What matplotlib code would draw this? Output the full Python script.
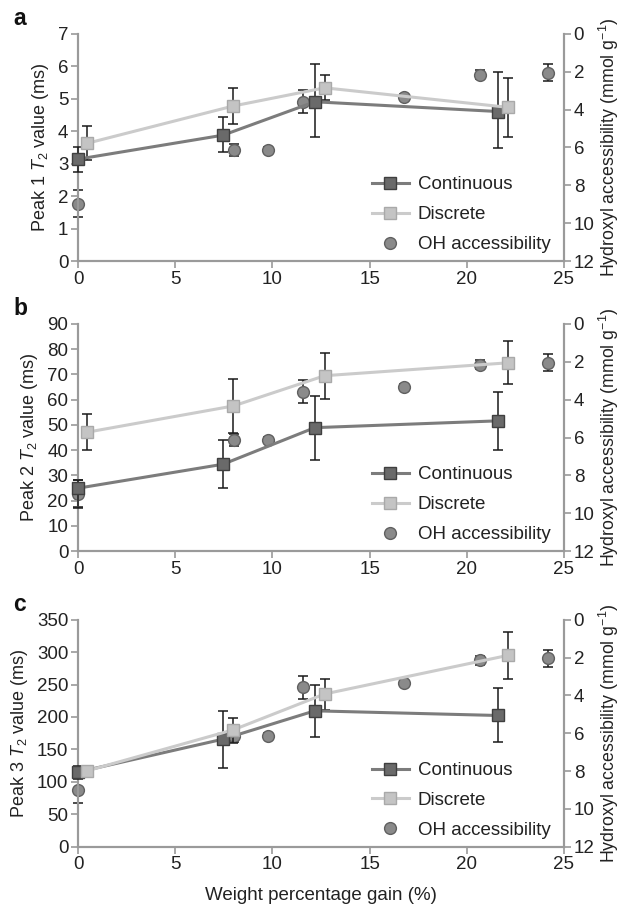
import matplotlib
matplotlib.use("Agg")
import matplotlib.pyplot as plt
import numpy as np

plt.rcParams['font.family'] = ['Liberation Sans', 'DejaVu Sans']
plt.rcParams['mathtext.fontset'] = 'custom'
plt.rcParams['mathtext.it'] = 'Liberation Sans:italic'
plt.rcParams['mathtext.rm'] = 'Liberation Sans'

# ---------------- data ----------------
cont_x = [0, 7.46, 12.18, 21.59]
disc_x = [0.47, 7.99, 12.69, 22.1]
oh_x = [0, 8.0, 9.79, 11.57, 16.78, 20.69, 24.18]
oh_y = [8.98, 6.13, 6.13, 3.58, 3.34, 2.15, 2.05]
oh_err = [0.72, 0.34, 0.15, 0.6, 0.15, 0.25, 0.45]

# Peak 1
a_cont = [3.14, 3.88, 4.91, 4.61]
a_cont_up = [0.39, 0.55, 1.16, 1.22]
a_cont_dn = [0.40, 0.53, 1.08, 1.14]
a_disc = [3.63, 4.78, 5.34, 4.74]
a_disc_up = [0.52, 0.55, 0.41, 0.90]
a_disc_dn = [0.52, 0.55, 0.37, 0.91]

# Peak 2
b_cont = [24.9, 34.4, 48.9, 51.6]
b_cont_up = [3.2, 9.6, 12.7, 11.3]
b_cont_dn = [7.7, 9.4, 12.9, 11.4]
b_disc = [47.1, 57.5, 69.5, 74.6]
b_disc_up = [7.2, 10.6, 9.0, 8.6]
b_disc_dn = [7.1, 10.6, 9.1, 8.3]

# Peak 3
c_cont = [115, 165.8, 209.5, 202.3]
c_cont_up = [10, 44, 40, 42]
c_cont_dn = [10, 44, 40, 41]
c_disc = [117, 180.2, 235.5, 294.9]
c_disc_up = [7, 19, 23, 35.5]
c_disc_dn = [7, 21, 24, 36]

panels = [
    ("a", "Peak 1", a_cont, a_cont_up, a_cont_dn, a_disc, a_disc_up, a_disc_dn, 7, 1),
    ("b", "Peak 2", b_cont, b_cont_up, b_cont_dn, b_disc, b_disc_up, b_disc_dn, 90, 10),
    ("c", "Peak 3", c_cont, c_cont_up, c_cont_dn, c_disc, c_disc_up, c_disc_dn, 350, 50),
]

W, H = 622, 907
fig = plt.figure(figsize=(W / 100, H / 100), dpi=100)

left = 78 / W
width = (564 - 78) / W
bottoms_px = [261, 551, 846.7]
height = 227 / H

spine_col = '#9a9a9a'
text_col = '#222222'
cont_line = '#7c7c7c'
cont_face = '#6a6a6a'
cont_edge = '#3f3f3f'
disc_line = '#cbcbcb'
disc_face = '#c4c4c4'
disc_edge = '#a9a9a9'
oh_face = '#8a8a8a'
oh_edge = '#606060'

FS = 13.5

for i, (lab, peak, cy, cu, cd, dy, du, dd, ymax, ystep) in enumerate(panels):
    b = 1 - bottoms_px[i] / H
    ax = fig.add_axes([left, b, width, height])
    ax2 = ax.twinx()
    ax.set_zorder(2)
    ax.patch.set_visible(False)

    # right axis: OH accessibility
    ax2.errorbar(oh_x, oh_y, yerr=oh_err, fmt='none', ecolor='#1a1a1a',
                 elinewidth=1.1, capsize=3.5, capthick=1.1, zorder=3, clip_on=False)
    ax2.plot(oh_x, oh_y, linestyle='none', marker='o', markersize=8.5,
             markerfacecolor=oh_face, markeredgecolor=oh_edge, markeredgewidth=1.0,
             zorder=4, clip_on=False)
    ax2.set_ylim(12, 0)
    ax2.set_yticks(np.arange(0, 13, 2))
    ax2.set_ylabel('Hydroxyl accessibility (mmol g$^{-1}$)', fontsize=12.8,
                   color=text_col, labelpad=2)

    # left axis: T2 values
    ax.errorbar(cont_x, cy, yerr=[cd, cu], fmt='none', ecolor='#1a1a1a',
                elinewidth=1.1, capsize=3.5, capthick=1.1, zorder=3, clip_on=False)
    ax.errorbar(disc_x, dy, yerr=[dd, du], fmt='none', ecolor='#1a1a1a',
                elinewidth=1.1, capsize=3.5, capthick=1.1, zorder=3, clip_on=False)
    lc, = ax.plot(cont_x, cy, color=cont_line, linewidth=2.2, marker='s', markersize=8.5,
                  markerfacecolor=cont_face, markeredgecolor=cont_edge, markeredgewidth=1.0,
                  zorder=4, clip_on=False, label='Continuous')
    ld, = ax.plot(disc_x, dy, color=disc_line, linewidth=2.2, marker='s', markersize=8.5,
                  markerfacecolor=disc_face, markeredgecolor=disc_edge, markeredgewidth=1.0,
                  zorder=4, clip_on=False, label='Discrete')
    lo, = ax.plot([], [], linestyle='none', marker='o', markersize=8.5,
                  markerfacecolor=oh_face, markeredgecolor=oh_edge, markeredgewidth=1.0,
                  label='OH accessibility')

    ax.set_xlim(0, 25)
    ax.set_xticks(np.arange(0, 26, 5))
    ax.set_ylim(0, ymax)
    ax.set_yticks(np.arange(0, ymax + 0.1, ystep))
    ax.set_ylabel(f'{peak} $T_2$ value (ms)', fontsize=13, color=text_col, labelpad=5)

    for a_ in (ax, ax2):
        a_.spines['top'].set_visible(False)
        for s in ('left', 'right', 'bottom'):
            a_.spines[s].set_color(spine_col)
            a_.spines[s].set_linewidth(1.5)
        a_.tick_params(axis='both', direction='out', length=5, width=1.2,
                       color=spine_col, labelsize=FS, labelcolor=text_col, pad=2)

    leg = ax.legend(handles=[lc, ld, lo], loc='lower right',
                    bbox_to_anchor=(0.995, -0.015), frameon=False, fontsize=FS,
                    handlelength=2.0, handletextpad=0.45, labelspacing=0.68,
                    borderaxespad=0.2)
    for t in leg.get_texts():
        t.set_color(text_col)

    fig.text(13 / W, b + height + 4 / H, lab, fontsize=16.5, fontweight='bold',
             color='#111111', va='bottom', ha='left')

    if i == 2:
        ax.set_xlabel('Weight percentage gain (%)', fontsize=FS, color=text_col,
                      labelpad=10)

fig.savefig('out.png', dpi=100)
